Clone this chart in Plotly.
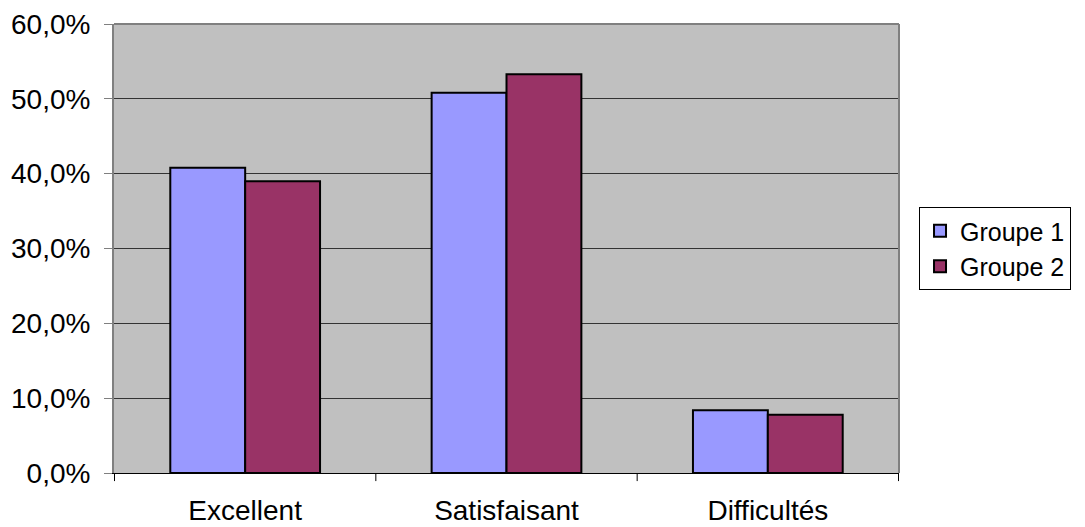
import plotly.graph_objects as go

categories = ["Excellent", "Satisfaisant", "Difficultés"]
groupe1 = [0.408, 0.508, 0.084]
groupe2 = [0.390, 0.533, 0.078]
series_names = ["Groupe 1", "Groupe 2"]
tick_vals = [0, 0.1, 0.2, 0.3, 0.4, 0.5, 0.6]

fig = go.Figure()
fig.add_trace(go.Bar(x=categories, y=groupe1, name=series_names[0],
                     marker=dict(color="#9999FF", line=dict(color="black", width=2))))
fig.add_trace(go.Bar(x=categories, y=groupe2, name=series_names[1],
                     marker=dict(color="#993366", line=dict(color="black", width=2))))

fig.update_layout(
    width=1077, height=519,
    margin=dict(l=106, r=186, t=16, b=54, autoexpand=False),
    paper_bgcolor="white",
    plot_bgcolor="#C0C0C0",
    separators=", ",
    barmode="group",
    bargap=0.427,
    bargroupgap=0,
    font=dict(family="Liberation Sans, Arial, sans-serif", color="black"),
    showlegend=True,
    legend=dict(x=1.0255, y=0.5, xanchor="left", yanchor="middle",
                bordercolor="black", borderwidth=1, bgcolor="white",
                font=dict(size=25), itemsizing="constant", tracegroupgap=0,
                itemwidth=30),
    xaxis=dict(showgrid=False, showline=True, linecolor="black", linewidth=1,
               tickfont=dict(size=28), ticks="", mirror=False,
               ticklabelstandoff=12, automargin=False),
    yaxis=dict(range=[0, 0.6], tickvals=tick_vals, tickformat=".1%",
               showgrid=True, gridcolor="#333333", gridwidth=1,
               showline=True, linecolor="#808080", linewidth=2,
               ticks="outside", ticklen=8, tickcolor="#808080",
               tickfont=dict(size=28), zeroline=False,
               ticklabelstandoff=8, automargin=False),
)

# Category separator ticks on x-axis and grey top/right frame
for xp in [-0.5, 0.5, 1.5, 2.5]:
    fig.add_shape(type="line", xref="x", yref="paper", x0=xp, x1=xp, y0=0, y1=-0.018,
                  line=dict(color="black", width=1))
fig.add_shape(type="line", xref="paper", yref="paper", x0=0, x1=1, y0=1, y1=1,
              line=dict(color="#808080", width=2))
fig.add_shape(type="line", xref="paper", yref="paper", x0=1, x1=1, y0=0, y1=1,
              line=dict(color="#808080", width=2))

fig.write_html("out.html")
